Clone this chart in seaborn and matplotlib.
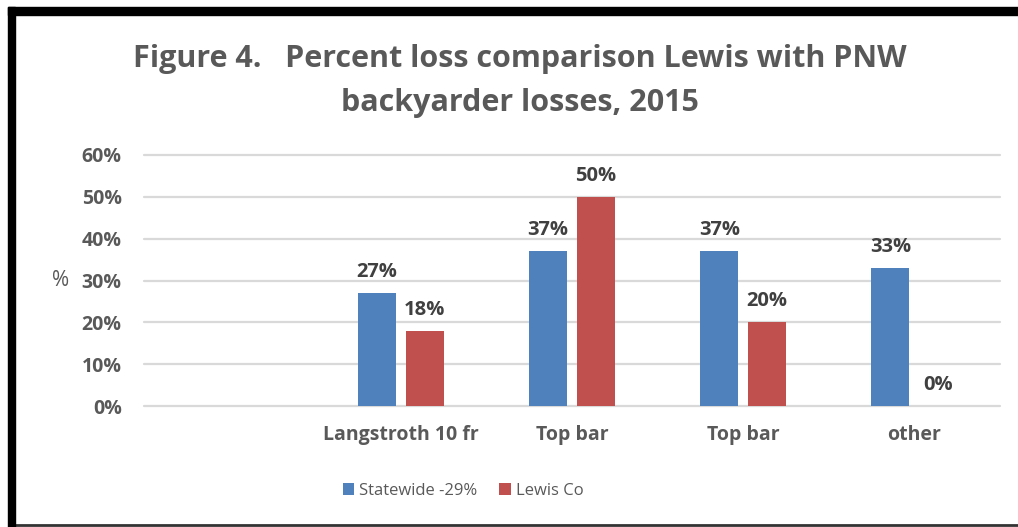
import numpy as np
import pandas as pd
import seaborn as sns
import matplotlib
matplotlib.use("Agg")
import matplotlib.pyplot as plt
from matplotlib.patches import Rectangle, Patch
from matplotlib.lines import Line2D

# Hive types (first slot is left empty on the axis)
slot_keys = ["s0", "s1", "s2", "s3", "s4"]
tick_labels = ["", "Langstroth 10 fr", "Top bar", "Top bar", "other"]
statewide = [np.nan, 27, 37, 37, 33]
lewis = [np.nan, 18, 50, 20, 0]
series_names = ["Statewide -29%", "Lewis Co"]
y_ticks = [0, 10, 20, 30, 40, 50, 60]

colors = ["#4F81BD", "#C0504D"]
text_gray = "#595959"
label_dark = "#404040"

df = pd.DataFrame({
    "slot": slot_keys * 2,
    "value": statewide + lewis,
    "series": [series_names[0]] * 5 + [series_names[1]] * 5,
}).dropna()

sns.set_theme(style="white")
plt.rcParams["font.family"] = ["Open Sans", "DejaVu Sans"]

fig = plt.figure(figsize=(10.18, 5.27), dpi=100)
ax = fig.add_axes([144 / 1018, 1 - 406 / 527, 856 / 1018, 251 / 527])

sns.barplot(data=df, x="slot", y="value", hue="series", order=slot_keys,
            hue_order=series_names, palette=colors, width=0.56, gap=0.21,
            saturation=1, linewidth=0, ax=ax, legend=False)

ax.set_ylim(0, 60)
ax.set_yticks(y_ticks)
ax.set_yticklabels([f"{t}%" for t in y_ticks], fontsize=14, fontweight="bold",
                   color=text_gray)
ax.set_xticks(range(len(slot_keys)))
ax.set_xticklabels(tick_labels, fontsize=14, fontweight="bold", color=text_gray)
ax.tick_params(axis="y", length=0, pad=16)
ax.tick_params(axis="x", length=0, pad=14)
ax.set_xlabel("")
ax.set_ylabel("%", fontsize=15, color=text_gray, rotation=0, va="center")
ax.yaxis.set_label_coords(-0.097, 0.5)
for s in ax.spines.values():
    s.set_visible(False)
for t in y_ticks:
    ax.axhline(t, color="#D9D9D9", lw=1.6, zorder=0, clip_on=False)

for cont in ax.containers:
    ax.bar_label(cont, labels=[f"{v:.0f}%" for v in cont.datavalues],
                 padding=8, fontsize=14.5, fontweight="bold", color=label_dark)

fig.text(0.511, 1 - 81 / 527,
         "Figure 4.   Percent loss comparison Lewis with PNW\nbackyarder losses, 2015",
         ha="center", va="center", fontsize=22, fontweight="bold",
         color=text_gray, linespacing=1.6)

handles = [Patch(facecolor=c, edgecolor="none") for c in colors]
fig.legend(handles, series_names, loc="center", bbox_to_anchor=(0.455, 1 - 491 / 527),
           ncol=2, frameon=False, fontsize=12, handlelength=0.7,
           handleheight=0.7, handletextpad=0.3, columnspacing=1.3,
           labelcolor=text_gray)

# Outer frame
fig.patches.append(Rectangle((8 / 1018, 0), 7 / 1018, 1 - 7 / 527,
                             transform=fig.transFigure, color="black", zorder=5))
fig.patches.append(Rectangle((8 / 1018, 1 - 15 / 527), 1 - 8 / 1018, 8 / 527,
                             transform=fig.transFigure, color="black", zorder=5))
fig.lines.append(Line2D([15 / 1018, 1], [1 - 525 / 527] * 2,
                        transform=fig.transFigure, color="#333333", lw=2))

fig.savefig("out.png", dpi=100)
